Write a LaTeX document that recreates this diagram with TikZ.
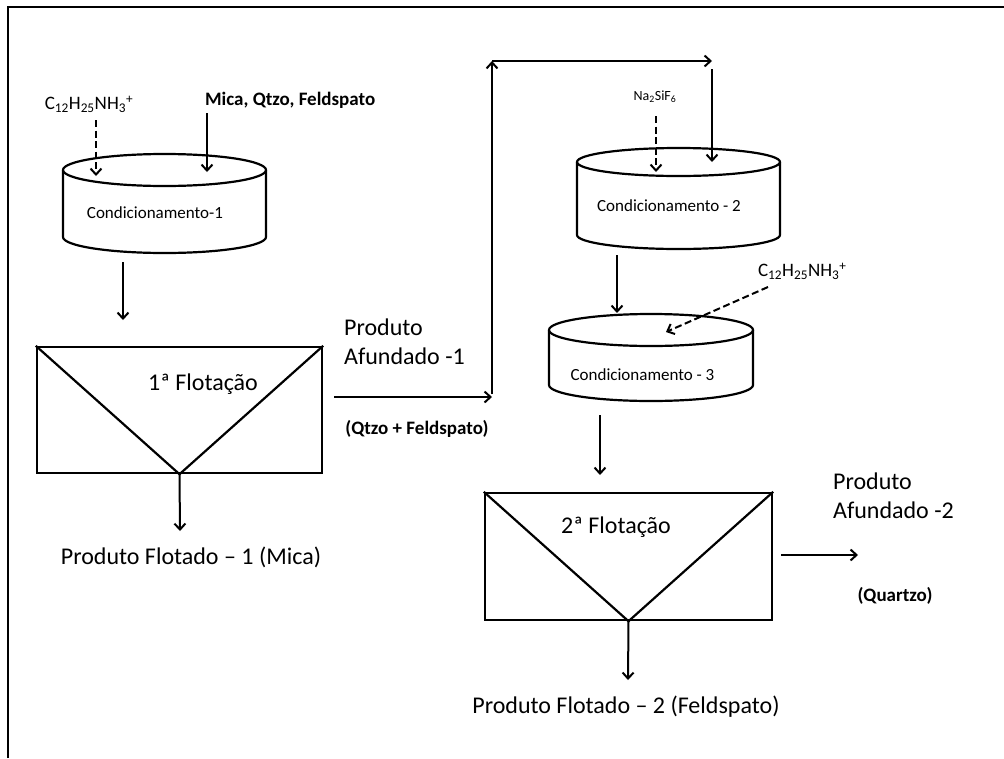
\documentclass[tikz,border=0pt]{standalone}
\usepackage{fontspec}
\setmainfont{Carlito}
\usetikzlibrary{arrows.meta}
\newcommand\mycyl[5]{%
  \draw (#1,#2) ellipse [x radius=#4pt, y radius=#5pt];
  \draw (#1-#4,#2) -- (#1-#4,#3) .. controls (#1-#4,#3+0.552*#5) and (#1-0.552*#4,#3+#5) .. (#1,#3+#5)
        .. controls (#1+0.552*#4,#3+#5) and (#1+#4,#3+0.552*#5) .. (#1+#4,#3) -- (#1+#4,#2);
}
\begin{document}
\begin{tikzpicture}[x=1pt,y=-1pt,line width=2.2pt,
  flow/.style={-{Straight Barb[length=6pt,width=11pt,line width=2pt]},line width=2pt},
  dflow/.style={flow,dash pattern=on 7pt off 3.5pt},
  big/.style={font=\fontsize{24}{29}\selectfont,inner sep=0pt},
  mid/.style={font=\fontsize{19}{23}\selectfont,inner sep=0pt},
  midb/.style={font=\fontsize{19}{23}\selectfont\bfseries,inner sep=0pt},
  cond/.style={font=\fontsize{17}{20}\selectfont,inner sep=0pt},
  tiny/.style={font=\fontsize{14}{17}\selectfont,inner sep=0pt},
  tank/.style={draw,line width=2.4pt,inner sep=0pt}]
\useasboundingbox (0,0) rectangle (1004,758);
% frame
\draw[line width=2pt] (7.5,758) -- (7.5,6.5) -- (1004,6.5);

% ---- Conditioning 1
\mycyl{164.5}{170}{237}{101.5}{16}
\node[cond] (c1) at (155,213) {Condicionamento-1};
\node[mid] (r1) at (89,104) {C\textsubscript{12}H\textsubscript{25}NH\textsubscript{3}\textsuperscript{+}};
\node[midb,anchor=west] (feed) at (204,100) {Mica, Qtzo, Feldspato};
\coordinate (r1s) at (96,120);
\coordinate (c1a) at (96,176);
\coordinate (feeds) at (207,113);
\coordinate (c1b) at (207,172);
\draw[dflow] (r1s) -- (c1a);
\draw[flow] (feeds) -- (c1b);
\coordinate (c1out) at (123,262);
\coordinate (f1in) at (123,320);
\draw[flow] (c1out) -- (f1in);

% ---- Flotation 1
\node[tank,minimum width=285pt,minimum height=126pt] (f1) at (179.5,410) {};
\draw (f1.north west) -- (f1.south) -- (f1.north east);
\node[big] (f1t) at (203,384) {1ª Flotação};
\coordinate (p1) at (180,531);
\draw[flow] (f1.south) -- (p1);
\node[big] (p1t) at (191,557) {Produto Flotado – 1 (Mica)};

\node[big,anchor=north west,align=left] (a1) at (343,318) {Produto\\Afundado -1};
\node[midb] (a1b) at (417,429) {(Qtzo + Feldspato)};
\coordinate (a1s) at (334,397);
\coordinate (k1) at (492,397);
\coordinate (k1u) at (492,394);
\coordinate (k2) at (492,61);
\coordinate (k3) at (712,61);
\coordinate (k3d) at (712,69);
\coordinate (c2b) at (712,162);
\draw[flow] (a1s) -- (k1);
\draw[flow] (k1u) -- (k2);
\draw[flow] (k2) -- (k3);
\draw[flow] (k3d) -- (c2b);

% ---- Conditioning 2
\mycyl{678.5}{162}{235}{101.5}{14}
\node[cond] (c2) at (669,206) {Condicionamento - 2};
\node[tiny] (r2) at (655,97) {Na\textsubscript{2}SiF\textsubscript{6}};
\coordinate (r2s) at (656,116);
\coordinate (c2a) at (656,172);
\draw[dflow] (r2s) -- (c2a);
\coordinate (c2out) at (617,255);
\coordinate (c3in) at (617,313);
\draw[flow] (c2out) -- (c3in);

% ---- Conditioning 3
\mycyl{651}{330}{385}{102}{16}
\node[cond] (c3) at (642.5,375) {Condicionamento - 3};
\node[mid,anchor=west] (r3) at (757,271) {C\textsubscript{12}H\textsubscript{25}NH\textsubscript{3}\textsuperscript{+}};
\coordinate (r3s) at (768,287);
\coordinate (c3a) at (666,332);
\draw[dflow] (r3s) -- (c3a);
\coordinate (c3out) at (600,415);
\coordinate (f2in) at (600,475);
\draw[flow] (c3out) -- (f2in);

% ---- Flotation 2
\node[tank,minimum width=287pt,minimum height=127pt] (f2) at (628.5,556.5) {};
\draw (f2.north west) -- (f2.south) -- (f2.north east);
\node[big] (f2t) at (616,527) {2ª Flotação};
\coordinate (p2) at (628,680);
\draw[flow] (f2.south) -- (p2);
\node[big] (p2t) at (626,707) {Produto Flotado – 2 (Feldspato)};
\coordinate (f2e) at (781,555);
\coordinate (a2e) at (858,555);
\draw[flow] (f2e) -- (a2e);
\node[big,anchor=north west,align=left] (a2) at (832,472) {Produto\\Afundado -2};
\node[midb] (a2b) at (895,596) {(Quartzo)};
\end{tikzpicture}
\end{document}
